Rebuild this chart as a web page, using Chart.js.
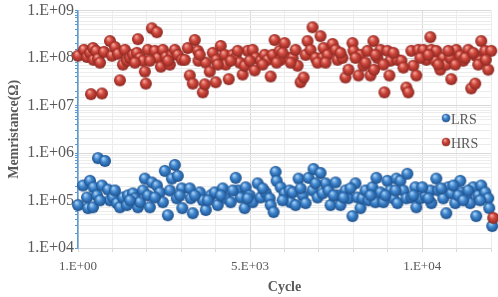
<!DOCTYPE html>
<html>
<head>
<meta charset="utf-8">
<script src="https://cdn.jsdelivr.net/npm/chart.js@4.4.1/dist/chart.umd.min.js"></script>
<style>
html,body{margin:0;padding:0;background:#fff;}
canvas{display:block;}
</style>
</head>
<body>
<canvas id="c" width="498" height="297"></canvas>
<script>
// ---- data (cycle, memristance in ohm) ----
const seriesNames = ['LRS', 'HRS'];
const xTickLabels = {0: '1.E+00', 5000: '5.E+03', 10000: '1.E+04'};

const hrsPoints = [
 [1,1.12e8],[174,1.49e8],[261,1.06e8],[348,1.29e8],[377,1.74e7],[435,1.63e8],[450,9.2e7],[522,1.42e8],[580,9.7e7],[696,1.8e7],
 [754,1.35e8],[928,2.28e8],[986,1.12e8],[1073,1.71e8],[1160,1.23e8],[1218,3.4e7],[1305,7.3e7],[1363,1.49e8],[1421,8.8e7],[1508,1.01e8],
 [1595,1.17e8],[1711,1.29e8],[1740,2.5e8],[1798,1.01e8],[1885,8.8e7],[1943,5.2e7],[1972,2.9e7],[2030,1.49e8],[2146,4.24e8],[2233,1.42e8],
 [2291,3.5e8],[2320,1.01e8],[2407,6.6e7],[2465,1.49e8],[2552,1.06e8],[2668,7.3e7],[2726,1.17e8],[2813,1.49e8],[2900,1.17e8],[3016,9.2e7],
 [3103,9.2e7],[3190,1.63e8],[3248,4.3e7],[3335,2.9e7],[3393,2.4e8],[3480,1.42e8],[3500,8.8e7],[3625,1.9e7],[3683,2.8e7],[3712,8.0e7],
 [3828,5.2e7],[3915,1.29e8],[4002,3.1e7],[4020,9.2e7],[4147,1.8e8],[4263,1.17e8],[4292,7.3e7],[4379,3.6e7],[4495,1.17e8],[4582,1.01e8],
 [4698,8.0e7],[4785,4.5e7],[4843,6.9e7],[4930,1.42e8],[5075,1.49e8],[5133,5.5e7],[5162,1.01e8],[5307,8.8e7],[5423,1.17e8],[5510,9.2e7],
 [5597,4.1e7],[5655,1.17e8],[5713,2.4e8],[5858,1.42e8],[5887,9.2e7],[6003,2.07e8],[6119,1.01e8],[6235,1.01e8],[6322,1.49e8],[6380,6.9e7],
 [6467,3.1e7],[6554,3.9e7],[6612,1.17e8],[6670,2.28e8],[6757,1.49e8],[6815,4.45e8],[6902,1.01e8],[7047,2.9e8],[7105,1.01e8],[7134,1.63e8],
 [7250,1.17e8],[7395,1.98e8],[7482,1.49e8],[7540,9.2e7],[7685,1.01e8],[7772,3.9e7],[7859,5.7e7],[7975,2.07e8],[8004,1.42e8],[8149,4.3e7],
 [8207,1.17e8],[8294,6.9e7],[8410,1.42e8],[8497,4.3e7],[8584,2.28e8],[8600,5.7e7],[8700,1.01e8],[8787,1.49e8],[8903,1.9e7],[8990,1.42e8],
 [9048,4.3e7],[9077,8.8e7],[9280,9.2e7],[9396,8.8e7],[9541,2.4e7],[9599,1.9e7],[9686,1.42e8],[9744,6.9e7],[9831,4.3e7],[9889,1.49e8],
 [10034,1.49e8],[10121,9.2e7],[10237,2.76e8],[10266,1.49e8],[10382,8.8e7],[10411,1.42e8],[10527,5.7e7],[10614,1.01e8],[10701,7.3e7],[10817,1.01e8],
 [10846,3.6e7],[10991,1.49e8],[11107,1.12e8],[11194,8.8e7],[11339,1.49e8],[11426,2.3e7],[11542,2.9e7],[11560,1.12e8],[11716,2.28e8],[11687,8.8e7],
 [11832,1.42e8],[11919,5.7e7],[12006,1.42e8],[12064,4.3e4],
 [638,8.0e7],[1653,8.0e7],[2088,8.8e7],[2610,8.8e7],[3538,1.17e8],[4060,7.3e7],[4437,8.8e7],[4640,1.42e8],[4988,8.8e7],[5365,7.3e7],
 [5771,8.0e7],[5945,1.29e8],[6177,8.0e7],[6960,8.0e7],[7192,8.0e7],[7627,1.29e8],[8062,1.01e8],[8352,8.0e7],[8642,1.17e8],[8874,7.3e7],
 [9164,1.29e8],[9454,6.3e7],[9947,1.01e8],[10179,1.17e8],[10469,7.3e7],[10759,1.42e8],[10962,7.3e7],[11252,1.01e8],[11484,1.29e8],[11629,7.3e7],
 [11850,9.2e7]
];

const lrsPoints = [
 [1,8.0e4],[145,2.07e5],[261,1.16e5],[290,6.9e4],[348,2.6e5],[435,7.2e4],[450,1.9e5],[551,1.28e5],[580,7.8e5],[696,2.07e5],
 [783,6.8e5],[870,1.7e5],[928,1.01e5],[1015,1.16e5],[1131,8.8e4],[1218,7.2e4],[1305,1.16e5],[1421,8.0e4],[1450,1.28e5],[1595,1.41e5],
 [1653,1.11e5],[1740,7.2e4],[1798,9.2e4],[1885,1.63e5],[1943,2.9e5],[2088,7.2e4],[2146,2.4e5],[2291,2.07e5],[2378,1.48e5],[2465,9.2e4],
 [2523,4.2e5],[2610,4.9e4],[2668,1.63e5],[2726,2.9e5],[2813,5.6e5],[2871,1.11e5],[2900,3.3e5],[3016,1.8e5],[3030,6.9e4],[3248,1.8e5],
 [3277,1.11e5],[3335,5.4e4],[3538,1.48e5],[3625,1.01e5],[3712,6.3e4],[3857,1.28e5],[3973,1.48e5],[4060,8.0e4],[4205,1.8e5],[4292,1.11e5],
 [4437,9.2e4],[4582,3.0e5],[4640,1.63e5],[4727,1.16e5],[4843,6.9e4],[4872,1.9e5],[4988,1.28e5],[5075,9.2e4],[5220,2.3e5],[5307,1.16e5],
 [5452,1.48e5],[5568,1.11e5],[5597,8.0e4],[5684,5.7e4],[5742,4.0e5],[5771,2.6e5],[5887,1.9e5],[6003,1.41e5],[6148,1.63e5],[6177,9.2e4],
 [6235,1.48e5],[6322,8.0e4],[6409,2.9e5],[6525,1.28e5],[6612,8.8e4],[6699,3.0e5],[6844,4.6e5],[7047,3.8e5],[6815,1.63e5],[6960,1.16e5],
 [7105,1.41e5],[7192,2.3e5],[7279,1.63e5],[7337,8.0e4],[7482,2.4e5],[7540,1.28e5],[7627,8.0e4],[7772,1.63e5],[7859,1.11e5],[7975,4.7e4],
 [8062,2.3e5],[8120,1.16e5],[8207,6.9e4],[8265,1.11e5],[8352,1.63e5],[8439,1.01e5],[8555,1.9e5],[8671,3.0e5],[8642,9.2e4],[8787,1.48e5],
 [8874,9.2e4],[8990,2.6e5],[9077,1.63e5],[9164,1.11e5],[9251,2.9e5],[9280,8.8e4],[9367,2.6e5],[9454,1.63e5],[9570,3.66e5],[9541,1.11e5],
 [9686,1.16e5],[9802,1.9e5],[9831,7.2e4],[9947,1.11e5],[10092,1.28e5],[10237,1.63e5],[10266,8.8e4],[10411,2.9e5],[10469,1.63e5],[10614,1.11e5],
 [10701,5.4e4],[10759,1.9e5],[10846,1.41e5],[10962,8.8e4],[11107,2.6e5],[11136,1.48e5],[11281,1.16e5],[11397,8.8e4],[11484,1.9e5],[11571,4.7e4],
 [11629,1.28e5],[11716,2.07e5],[11832,1.48e5],[11919,1.11e5],[11948,6.9e4],[12035,2.9e4],
 [638,1.01e5],[1073,1.63e5],[1508,1.01e5],[2030,1.28e5],[2233,1.16e5],[2958,1.28e5],[3393,1.28e5],[3770,1.01e5],[4147,1.28e5],[4495,1.63e5],
 [4930,1.11e5],[5365,1.8e5],[5945,1.01e5],[6467,1.8e5],[6902,2.3e5],[7424,1.28e5],[7714,1.16e5],[7917,1.8e5],[8497,1.28e5],[8932,1.28e5],
 [9222,1.63e5],[9744,1.28e5],[10005,1.9e5],[10179,1.11e5],[10556,1.8e5],[10904,2.07e5],[11049,1.28e5],[11194,1.01e5],[11339,1.63e5],[11687,1.01e5]
];

// ---- styling ----
const FONT = '"Liberation Serif", "Times New Roman", serif';
function makeBall(r, light, mid, dark) {
  const s = Math.ceil(r * 2 + 2);
  const c = document.createElement('canvas');
  c.width = s; c.height = s;
  const g = c.getContext('2d');
  const cx = s / 2, cy = s / 2;
  const grad = g.createRadialGradient(cx - r * 0.3, cy - r * 0.45, r * 0.05, cx, cy, r);
  grad.addColorStop(0, light);
  grad.addColorStop(0.45, mid);
  grad.addColorStop(1, dark);
  g.fillStyle = grad;
  g.beginPath(); g.arc(cx, cy, r, 0, Math.PI * 2); g.fill();
  return c;
}
const blueBall = makeBall(6, '#b3d7f5', '#3f87d0', '#1d4f8a');
const redBall = makeBall(6, '#f4aaa2', '#d0463b', '#8a2822');

const legendPlugin = {
  id: 'insideLegend',
  afterDraw(chart) {
    const ctx = chart.ctx;
    const items = [
      {text: seriesNames[0], ball: blueBall, y: 118},
      {text: seriesNames[1], ball: redBall, y: 142}
    ];
    ctx.save();
    ctx.font = '14px ' + FONT;
    ctx.fillStyle = '#595959';
    ctx.textBaseline = 'middle';
    items.forEach(it => {
      ctx.drawImage(it.ball, 441, it.y - 5, 10, 10);
      ctx.fillText(it.text, 451, it.y + 2);
    });
    ctx.restore();
  }
};

function yLabel(v) {
  const e = Math.log10(v);
  const r = Math.round(e);
  if (Math.abs(e - r) < 1e-9) return '1.E+' + String(r).padStart(2, '0');
  return '';
}

new Chart(document.getElementById('c'), {
  type: 'scatter',
  data: {
    datasets: [
      {label: seriesNames[0], data: lrsPoints.map(p => ({x: p[0], y: p[1]})), pointStyle: blueBall, pointRadius: 6, order: 2, clip: false},
      {label: seriesNames[1], data: hrsPoints.map(p => ({x: p[0], y: p[1]})), pointStyle: redBall, pointRadius: 6, order: 1, clip: false}
    ]
  },
  options: {
    responsive: false,
    animation: false,
    devicePixelRatio: 1,
    layout: {padding: {left: 0, right: 6, top: 7, bottom: 0}},
    plugins: {legend: {display: false}, tooltip: {enabled: false}},
    scales: {
      x: {
        type: 'linear', min: 0, max: 12000,
        afterFit(s) { s.height = 49; },
        ticks: {
          stepSize: 1000, autoSkip: false, maxRotation: 0, padding: 7,
          color: '#595959', font: {family: FONT, size: 13},
          callback(v) { return xTickLabels[v] !== undefined ? xTickLabels[v] : ''; }
        },
        grid: {
          color: c => (c.tick && c.tick.value % 5000 === 0) ? '#d9d9d9' : '#ececec',
          tickLength: 4, tickColor: '#d9d9d9'
        },
        border: {color: '#d9d9d9'},
        title: {display: true, text: 'Cycle', color: '#595959', font: {family: FONT, size: 14, weight: 'bold'}, padding: {top: 0, bottom: 1}}
      },
      y: {
        type: 'logarithmic', min: 1e4, max: 1e9,
        afterFit(s) { s.width = 78; },
        ticks: {
          autoSkip: false, padding: 1,
          color: '#595959', font: {family: FONT, size: 16},
          callback: yLabel
        },
        grid: {
          color: c => (c.tick && yLabel(c.tick.value) !== '') ? '#d9d9d9' : '#ececec',
          tickLength: 3, tickColor: '#5b9bd5'
        },
        border: {color: '#5b9bd5', width: 1.5},
        title: {display: true, text: 'Memristance(Ω)', color: '#595959', font: {family: FONT, size: 14, weight: 'bold'}, padding: {top: 6, bottom: 0}}
      }
    }
  },
  plugins: [legendPlugin]
});
</script>
</body>
</html>
